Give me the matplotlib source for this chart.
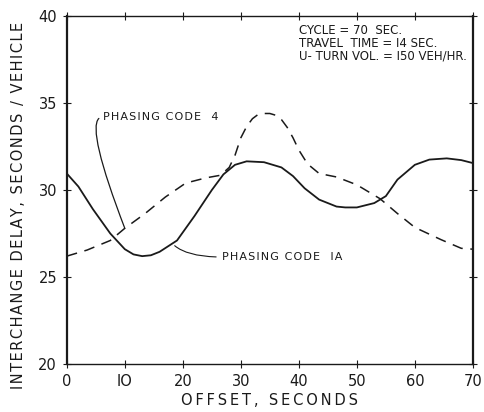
import matplotlib.pyplot as plt

# Phasing code 1A (solid line)
offset_1a = [0, 2, 4.5, 7.5, 10, 11.5, 13, 14.5, 16, 19, 22, 25, 27, 29, 31,
             34, 37, 39, 41, 43.5, 46.5, 48, 50, 53, 55, 57, 60, 62.5, 65.5,
             68, 70]
delay_1a = [30.95, 30.2, 28.9, 27.5, 26.6, 26.3, 26.2, 26.25, 26.45, 27.1,
            28.5, 30.0, 30.9, 31.45, 31.65, 31.6, 31.3, 30.8, 30.1, 29.45,
            29.05, 29.0, 29.0, 29.25, 29.65, 30.6, 31.45, 31.75, 31.82, 31.72,
            31.55]

# Phasing code 4 (dashed line)
offset_4 = [0, 3.5, 7.5, 10, 13.5, 17, 20.5, 24, 26.5, 28, 29, 30, 31, 32,
            33, 34, 35, 36, 37, 38, 39, 40, 41.5, 43.5, 46.5, 50, 54, 57, 60,
            64.5, 68, 70]
delay_4 = [26.2, 26.55, 27.1, 27.8, 28.65, 29.6, 30.4, 30.7, 30.85, 31.3, 32.0,
           33.0, 33.65, 34.1, 34.35, 34.4, 34.4, 34.3, 34.05, 33.6, 33.0, 32.3,
           31.5, 30.95, 30.75, 30.3, 29.5, 28.65, 27.85, 27.15, 26.65, 26.6]

x_ticks = [0, 10, 20, 30, 40, 50, 60, 70]
x_labels = ["0", "IO", "20", "30", "40", "50", "60", "70"]
y_ticks = [20, 25, 30, 35, 40]

ink = "#1a1a1a"


def spread(s, gap="\u200a"):
    # old lettering is widely spaced
    return gap.join(s)


fig = plt.figure(figsize=(4.84, 4.12), dpi=100)
ax = fig.add_axes([0.138, 0.1165, 0.839, 0.8445])

ax.plot(offset_1a, delay_1a, color=ink, lw=1.3)
ax.plot(offset_4, delay_4, color=ink, lw=1.1, dashes=(7, 5))

ax.set_xlim(0, 70)
ax.set_ylim(20, 40)
ax.set_xticks(x_ticks)
ax.set_xticklabels(x_labels)
ax.set_yticks(y_ticks)
ax.tick_params(direction="inout", length=6, width=0.8, colors=ink,
               labelsize=10.5, top=True, right=True, pad=4)
for s in ax.spines.values():
    s.set_color(ink)
    s.set_linewidth(1.0)
ax.spines["left"].set_linewidth(1.6)
ax.spines["right"].set_linewidth(1.6)

ax.set_xlabel(spread("OFFSET, SECONDS", "\u2009"), fontsize=10.5, color=ink,
              labelpad=3)
ax.set_ylabel(spread("INTERCHANGE DELAY, SECONDS / VEHICLE"), fontsize=10.5,
              color=ink)
ax.yaxis.set_label_coords(-0.1, 0.455)

# notes box
ax.text(40.0, 39.55, "CYCLE = 70  SEC.\nTRAVEL  TIME = I4 SEC.\nU- TURN VOL. = I50 VEH/HR.",
        fontsize=8.5, color=ink, va="top", ha="left", linespacing=1.0)

# curve labels with leader lines
ax.annotate(spread("PHASING CODE  4"), xy=(10, 27.8), xytext=(6.2, 34.2),
            fontsize=8, color=ink, va="center", ha="left",
            arrowprops=dict(arrowstyle="-", color=ink, lw=0.9, relpos=(0, 0.5),
                            connectionstyle="angle3,angleA=180,angleB=111",
                            shrinkA=1, shrinkB=0))
ax.annotate(spread("PHASING CODE  IA"), xy=(18.6, 26.8), xytext=(26.7, 26.15),
            fontsize=8, color=ink, va="center", ha="left",
            arrowprops=dict(arrowstyle="-", color=ink, lw=0.8, relpos=(0, 0.5),
                            connectionstyle="angle3,angleA=0,angleB=-40",
                            shrinkA=2, shrinkB=0))

fig.savefig("out.png", dpi=100)
